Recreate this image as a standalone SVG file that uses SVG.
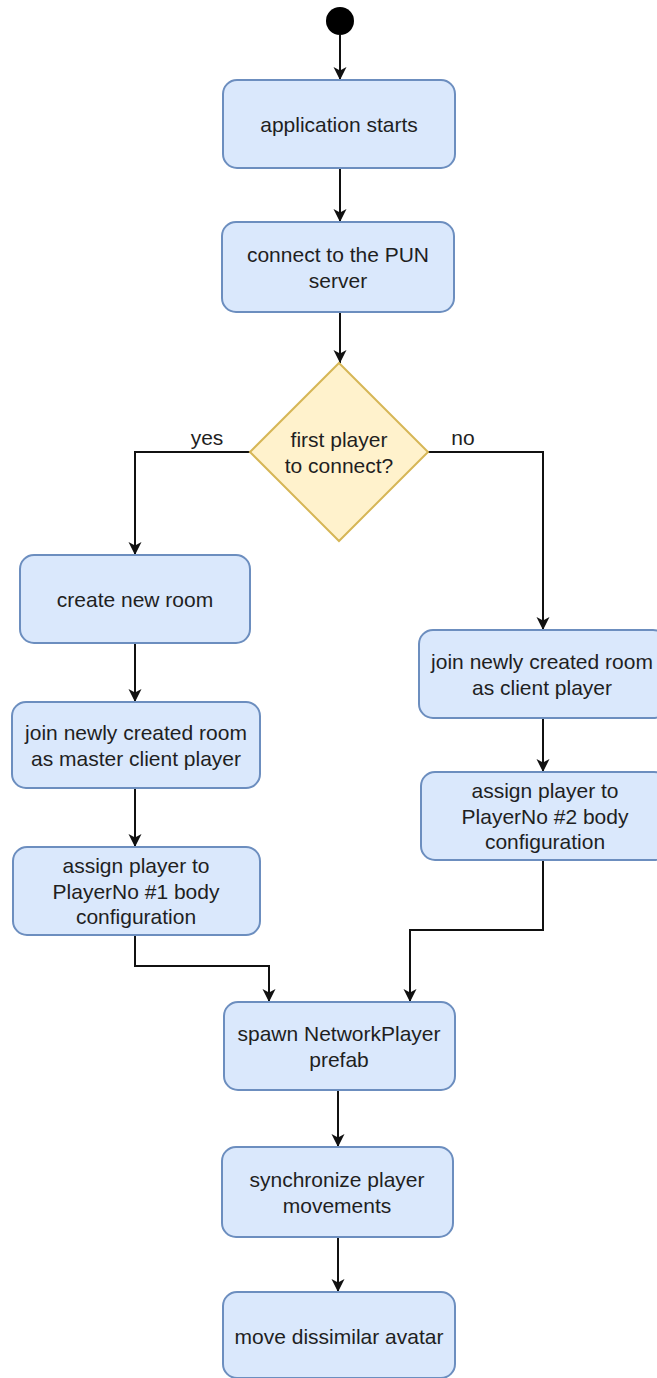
<svg xmlns="http://www.w3.org/2000/svg" width="657" height="1378" viewBox="0 0 657 1378">
<defs>
<marker id="arr" markerWidth="15" markerHeight="14" viewBox="-14 -7 15 14" refX="0" refY="0" orient="auto" markerUnits="userSpaceOnUse">
<path d="M0,0 L-13,-6.5 L-9.5,0 L-13,6.5 Z" fill="#111"/>
</marker>
<style>
.box{fill:#dae8fc;stroke:#6c8ebf;stroke-width:2}
.dia{fill:#fff2cc;stroke:#d6b656;stroke-width:2}
.t{font-family:"Liberation Sans",Arial,sans-serif;font-size:21px;fill:#1f1f1f;text-anchor:middle}
.c{fill:none;stroke:#111;stroke-width:2;marker-end:url(#arr)}
</style>
</defs>
<rect width="657" height="1378" fill="#ffffff"/>
<g id="connectors">
<path class="c" d="M340,35 L340,80"/>
<path class="c" d="M340,168 L340,222"/>
<path class="c" d="M340,312 L340,363"/>
<path class="c" d="M250,452 L135,452 L135,555"/>
<path class="c" d="M428,452 L543,452 L543,630"/>
<path class="c" d="M135,643 L135,702"/>
<path class="c" d="M135,788 L135,847"/>
<path class="c" d="M543,718 L543,772"/>
<path class="c" d="M135,935 L135,966 L269,966 L269,1002"/>
<path class="c" d="M543,860 L543,930 L410,930 L410,1002"/>
<path class="c" d="M338,1090 L338,1147"/>
<path class="c" d="M338,1237 L338,1292"/>
<text class="t" x="207" y="445">yes</text>
<text class="t" x="463" y="445">no</text>
</g>
<g id="start"><circle cx="340" cy="21" r="14" fill="#000"/></g>
<g id="n1"><rect class="box" x="223" y="80" width="232" height="88" rx="14"/><text class="t" x="339" y="131.5">application starts</text></g>
<g id="n2"><rect class="box" x="222" y="222" width="232" height="90" rx="14"/><text class="t" x="338" y="262">connect to the PUN</text><text class="t" x="338" y="287.5">server</text></g>
<g id="d1"><polygon class="dia" points="339,363 428,452 339,541 250,452"/><text class="t" x="339" y="447">first player</text><text class="t" x="339" y="472.5">to connect?</text></g>
<g id="n3"><rect class="box" x="20" y="555" width="230" height="88" rx="14"/><text class="t" x="135" y="606.5">create new room</text></g>
<g id="n4"><rect class="box" x="12" y="702" width="248" height="86" rx="14"/><text class="t" x="136" y="740">join newly created room</text><text class="t" x="136" y="765.5">as master client player</text></g>
<g id="n5"><rect class="box" x="13" y="847" width="247" height="88" rx="14"/><text class="t" x="136" y="873">assign player to</text><text class="t" x="136" y="898.5">PlayerNo #1 body</text><text class="t" x="136" y="924">configuration</text></g>
<g id="n6"><rect class="box" x="419" y="630" width="248" height="88" rx="14"/><text class="t" x="542" y="669">join newly created room</text><text class="t" x="542" y="694.5">as client player</text></g>
<g id="n7"><rect class="box" x="421" y="772" width="247" height="88" rx="14"/><text class="t" x="545" y="798">assign player to</text><text class="t" x="545" y="823.5">PlayerNo #2 body</text><text class="t" x="545" y="849">configuration</text></g>
<g id="n8"><rect class="box" x="224" y="1002" width="231" height="88" rx="14"/><text class="t" x="339" y="1041">spawn NetworkPlayer</text><text class="t" x="339" y="1066.5">prefab</text></g>
<g id="n9"><rect class="box" x="222" y="1147" width="231" height="90" rx="14"/><text class="t" x="337" y="1187">synchronize player</text><text class="t" x="337" y="1212.5">movements</text></g>
<g id="n10"><rect class="box" x="223" y="1292" width="232" height="86" rx="14"/><text class="t" x="339" y="1344">move dissimilar avatar</text></g>
</svg>
